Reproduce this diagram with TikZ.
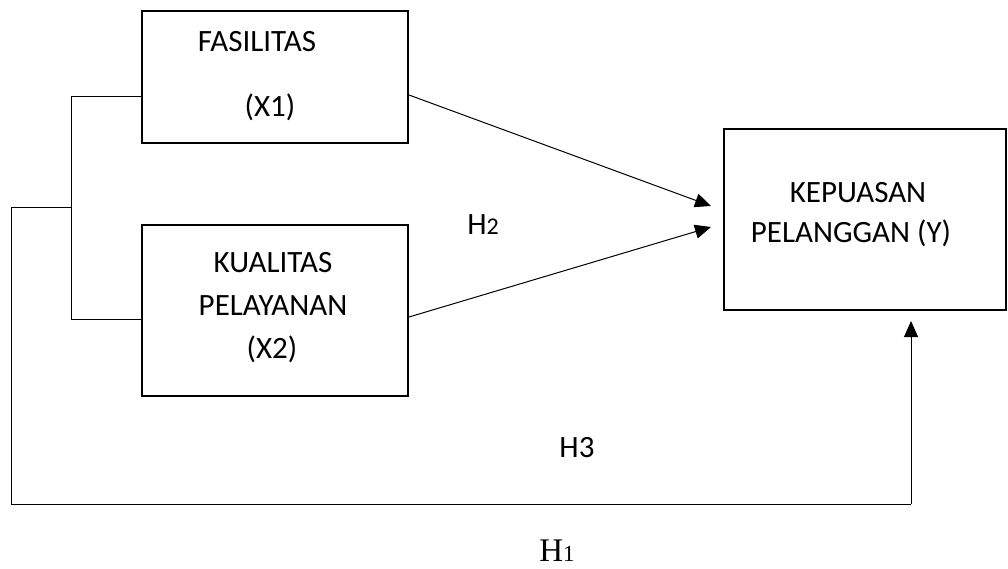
\documentclass[tikz,border=0pt]{standalone}
\usepackage{fontspec}
\setmainfont{Carlito}
\newfontfamily\timesfont{Liberation Serif}
\usetikzlibrary{arrows.meta}
\tikzset{
    BX/.style ={rectangle, draw, line width=2pt, inner sep=0pt},
    TX/.style ={anchor=base, inner sep=0pt, font=\fontsize{31}{37}\selectfont},
    LN/.style ={line width=1pt},
    AR/.style ={line width=1pt, -{Triangle[length=16pt,width=14pt]}}}

\begin{document}
\begin{tikzpicture}[x=1pt,y=-1pt]
    \useasboundingbox (0,0) rectangle (1008,569);
    % kotak
    \node(x1) [BX, minimum width=266pt, minimum height=132pt] at (275,77) {};
    \node(x2) [BX, minimum width=266pt, minimum height=171pt] at (275,310.5) {};
    \node(y)  [BX, minimum width=282pt, minimum height=181pt] at (865,219.5) {};
    % teks
    \node(t1) [TX] at (257,52) {FASILITAS};
    \node(t2) [TX] at (270,117) {(X1)};
    \node(t3) [TX] at (273,272) {KUALITAS};
    \node(t4) [TX] at (273,315) {PELAYANAN};
    \node(t5) [TX] at (272,358) {(X2)};
    \node(t6) [TX] at (858,203) {KEPUASAN};
    \node(t7) [TX] at (851,243) {PELANGGAN (Y)};
    \node(h2) [TX] at (483,235) {H{\fontsize{24}{28}\selectfont 2}};
    \node(h3) [TX] at (577,457) {H3};
    \node(h1) [TX, font=\timesfont\fontsize{33}{38}\selectfont] at (557,561) {H{\fontsize{23}{27}\selectfont 1}};
    % garis
    \coordinate(b1) at (71,97);
    \coordinate(b2) at (71,319);
    \coordinate(bm) at (71,208);
    \coordinate(c1) at (11,208);
    \coordinate(c2) at (11,504);
    \coordinate(c3) at (911,504);
    \draw[LN] (b1 -| x1.west) -- (b1) -- (b2) -- (b2 -| x2.west);
    \draw[LN] (bm) -- (c1) -- (c2) -- (c3);
    \draw[AR, shorten >=10pt] (c3) -- (c3 |- y.south);
    \coordinate(a1) at ([yshift=-18pt]x1.east);
    \coordinate(a2) at ([yshift=-6.5pt]x2.east);
    \coordinate(e1) at ([xshift=-12pt,yshift=13.5pt]y.west);
    \coordinate(e2) at ([xshift=-12pt,yshift=-7.5pt]y.west);
    \draw[AR] (a1) -- (e1);
    \draw[AR] (a2) -- (e2);
\end{tikzpicture}
\end{document}
